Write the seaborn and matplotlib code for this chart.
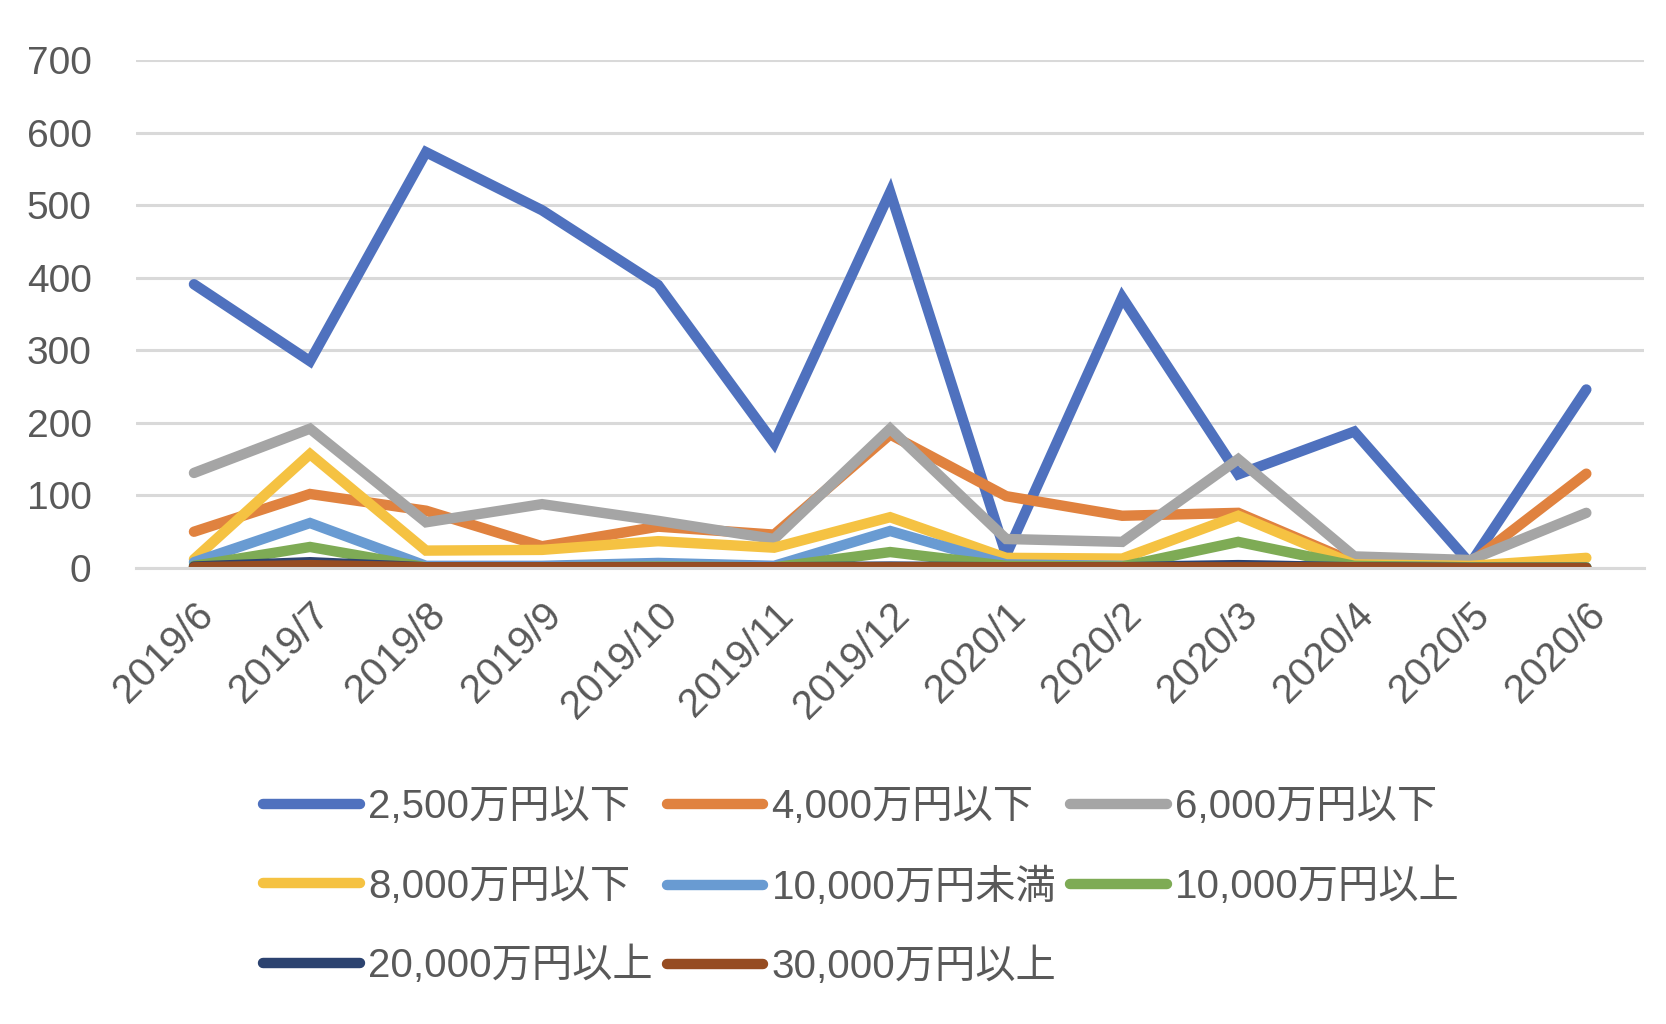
import matplotlib
matplotlib.use("Agg")
import matplotlib.pyplot as plt
import seaborn as sns
import pandas as pd
from matplotlib.ticker import FixedLocator

months = ["2019/6", "2019/7", "2019/8", "2019/9", "2019/10", "2019/11", "2019/12",
          "2020/1", "2020/2", "2020/3", "2020/4", "2020/5", "2020/6"]

series_names = ["2,500万円以下", "4,000万円以下", "6,000万円以下", "8,000万円以下",
                "10,000万円未満", "10,000万円以上", "20,000万円以上", "30,000万円以上"]

v2500 = [391, 285, 573, 493, 390, 172, 518, 18, 373, 129, 188, 6, 246]
v4000 = [50, 102, 79, 30, 57, 46, 184, 99, 72, 76, 8, 7, 130]
v6000 = [131, 192, 63, 88, 65, 40, 192, 40, 36, 150, 16, 11, 76]
v8000 = [12, 157, 24, 25, 37, 28, 70, 14, 13, 72, 5, 3, 14]
v10000u = [8, 62, 3, 3, 7, 3, 51, 5, 3, 3, 2, 1, 1]
v10000o = [3, 29, 1, 1, 2, 1, 22, 3, 2, 36, 3, 1, 1]
v20000 = [2, 8, 1, 1, 1, 1, 2, 1, 1, 4, 1, 0, 0]
v30000 = [1, 4, 1, 1, 1, 1, 1, 1, 1, 1, 1, 0, 0]

values = [v2500, v4000, v6000, v8000, v10000u, v10000o, v20000, v30000]
colors = ["#4F71BE", "#E0823F", "#A5A5A5", "#F5C242",
          "#699BD2", "#7EAB55", "#2C4370", "#964C22"]

rows = []
for name, vals in zip(series_names, values):
    for m, v in zip(months, vals):
        rows.append({"month": m, "value": v, "series": name})
df = pd.DataFrame(rows)

sns.set_theme(style="white")
plt.rcParams["font.family"] = ["Liberation Sans", "Noto Sans CJK JP", "DejaVu Sans"]

text_color = "#595959"
grid_color = "#D9D9D9"

fig = plt.figure(figsize=(16.66, 10.24), dpi=100)
ax = fig.add_axes([0.0816, 0.4453, 0.9054, 0.4961])

sns.lineplot(data=df, x="month", y="value", hue="series", hue_order=series_names,
             palette=colors, sort=False, linewidth=7.5, ax=ax, legend=True,
             solid_capstyle="round", solid_joinstyle="miter")

ax.set_xlim(-0.5, len(months) - 0.5)
ax.set_ylim(0, 700)
ax.set_yticks(range(0, 701, 100))
ax.yaxis.grid(True, color=grid_color, linewidth=2.2)
ax.set_axisbelow(True)
ax.set_xlabel("")
ax.set_ylabel("")

for s in ["top", "right", "left"]:
    ax.spines[s].set_visible(False)
ax.spines["bottom"].set_color(grid_color)
ax.spines["bottom"].set_linewidth(2.2)

ax.tick_params(axis="y", length=0, labelsize=28, labelcolor=text_color, pad=32)
ax.tick_params(axis="x", which="major", length=0, labelsize=29, labelcolor=text_color, pad=20)
ax.xaxis.set_minor_locator(FixedLocator([i - 0.5 for i in range(len(months) + 1)]))
ax.tick_params(axis="x", which="minor", length=12, width=2.2, color=grid_color, direction="out")
for lbl in ax.get_xticklabels():
    lbl.set_rotation(45)
    lbl.set_ha("right")
    lbl.set_va("top")
    lbl.set_rotation_mode("anchor")

handles, labels = ax.get_legend_handles_labels()
ax.get_legend().remove()
order = [0, 3, 6, 1, 4, 7, 2, 5]
h2 = [handles[i] for i in order]
l2 = [labels[i] for i in order]
for h in h2:
    h.set_linewidth(7.5)
leg = fig.legend(h2, l2, ncol=3, loc="upper left", bbox_to_anchor=(0.158, 0.230),
                 frameon=False, fontsize=29, handlelength=2.4, handletextpad=0.2,
                 columnspacing=0.35, labelspacing=1.02, borderpad=0, borderaxespad=0)
for t in leg.get_texts():
    t.set_color(text_color)

fig.savefig("out.png", dpi=100)
